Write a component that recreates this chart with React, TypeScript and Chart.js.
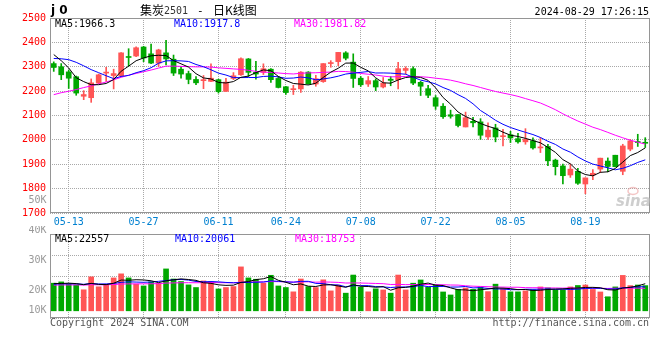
import React, { useEffect, useRef } from "react";
import { Chart, registerables } from "chart.js";
Chart.register(...registerables);

// ---------- data ----------
const dates = [
  "05-09","05-10","05-13","05-14","05-15","05-16","05-17","05-20","05-21","05-22","05-23","05-24",
  "05-27","05-28","05-29","05-30","05-31",
  "06-03","06-04","06-05","06-06","06-07","06-11","06-12","06-13","06-14","06-17","06-18","06-19","06-20","06-21",
  "06-24","06-25","06-26","06-27","06-28",
  "07-01","07-02","07-03","07-04","07-05","07-08","07-09","07-10","07-11","07-12","07-15","07-16","07-17","07-18","07-19",
  "07-22","07-23","07-24","07-25","07-26","07-29","07-30","07-31",
  "08-01","08-02","08-05","08-06","08-07","08-08","08-09","08-12","08-13","08-14","08-15","08-16",
  "08-19","08-20","08-21","08-22","08-23","08-26","08-27","08-28","08-29",
];
const tickDates = ["05-13","05-27","06-11","06-24","07-08","07-22","08-05","08-19"];

const opens = [
  2313,2300,2279,2259,2179,2173,2233,2274,2264,2263,
  2340,2344,2381,2353,2315,2357,2331,2290,2272,2248,
  2243,2240,2247,2199,2252,2267,2332,2277,2277,2290,
  2252,2218,2206,2209,2278,2229,2239,2313,2321,2357,
  2319,2253,2229,2243,2217,2249,2247,2285,2292,2236,
  2210,2173,2138,2103,2104,2053,2076,2074,2012,2049,
  2013,2021,2005,1992,1996,1967,1973,1917,1893,1856,
  1871,1819,1856,1880,1913,1937,1871,1962,1993,1990,
];
const highs = [
  2320,2313,2287,2262,2202,2250,2270,2298,2290,2358,
  2374,2382,2384,2393,2372,2408,2348,2300,2282,2260,
  2264,2312,2249,2253,2276,2337,2334,2322,2312,2292,
  2260,2220,2224,2280,2280,2265,2313,2325,2359,2362,
  2353,2260,2260,2250,2256,2260,2318,2300,2300,2240,
  2224,2182,2149,2122,2104,2114,2093,2087,2070,2064,
  2043,2035,2027,2046,2008,2009,1982,1921,1901,1901,
  1883,1844,1878,1925,1926,1937,1982,2002,2023,2009,
];
const lows = [
  2281,2247,2211,2183,2165,2154,2231,2240,2209,2260,
  2302,2341,2321,2313,2301,2308,2264,2253,2230,2226,
  2210,2239,2192,2199,2247,2264,2260,2249,2268,2236,
  2213,2186,2186,2195,2228,2220,2236,2298,2304,2328,
  2215,2219,2219,2202,2213,2222,2209,2270,2226,2182,
  2173,2125,2088,2089,2053,2053,2053,2002,2002,1992,
  1975,1989,1986,1982,1962,1948,1894,1856,1819,1846,
  1817,1779,1837,1866,1869,1889,1857,1955,1973,1969,
];
const closes = [
  2297,2267,2253,2192,2186,2234,2267,2278,2272,2357,
  2338,2378,2336,2315,2369,2332,2274,2270,2248,2234,
  2245,2253,2198,2237,2263,2333,2277,2270,2292,2247,
  2215,2194,2209,2278,2230,2251,2313,2317,2359,2335,
  2252,2226,2243,2217,2233,2244,2292,2293,2233,2220,
  2183,2138,2095,2097,2059,2091,2070,2019,2040,2012,
  2017,2008,1992,2002,1967,1971,1914,1890,1853,1880,
  1822,1844,1863,1925,1891,1890,1975,1996,1989,1986,
];
const volumes = [
  23000,24100,22600,21600,17500,28300,20000,21600,27400,30800,
  27400,22200,20700,24100,23000,34900,26500,24400,21600,19400,
  24900,24100,18200,19400,20200,36600,27400,26300,23000,29600,
  20700,19400,15800,26500,20200,19400,25800,16600,21400,14700,
  29800,19600,15800,18300,17400,14700,29800,17400,23000,25700,
  19600,21300,15700,13200,17900,19000,17900,19900,16000,22200,
  18400,15800,15800,16600,17600,19900,19100,17400,17400,19900,
  21100,21500,17800,15700,11700,19900,29500,21000,21500,21000,
];
// sessions before the visible window (only feed the moving averages)
const priorCloses = [
  2027,2073,1982,1946,2024,2027,2038,2002,2057,2068,2168,2126,2105,2129,2092,
  2274,2300,2278,2264,2245,2280,2290,2300,2330,2390,2392,2403,2392,2266,
];
const priorVolumes = [
  19500,22000,20500,23500,18500,21000,22500,20000,19000,24000,
  21500,20000,22500,19500,21000,23000,20500,19000,22000,20500,
  21000,23500,20500,22000,21000,24500,21000,23500,22000,
];

const priceLegend = ["MA5:1966.3", "MA10:1917.8", "MA30:1981.82"];
const volLegend = ["MA5:22557", "MA10:20061", "MA30:18753"];
const volAxisLabels = ["50K", "40K", "30K", "20K", "10K"];
const symbolText = "j 0";
const titleName = "集炭";
const titleCode = "2501";
const titleDash = "-";
const titleSuffix = "日K线图";
const timestamp = "2024-08-29 17:26:15";
const copyright = "Copyright 2024 SINA.COM";
const siteUrl = "http://finance.sina.com.cn";

// ---------- styles ----------
const RED = "#ff5555";
const GREEN = "#00a800";
const GRID = "#a8a8a8";
const FRAME = "#959595";
const MONO = '"DejaVu Sans Mono", monospace';
const CJK = '"Noto Sans CJK SC", sans-serif';

function movingAverage(prior: number[], values: number[], n: number) {
  const all = prior.concat(values);
  const off = prior.length;
  return values.map((_, i) => {
    let s = 0;
    for (let k = 0; k < n; k++) s += all[off + i - k];
    return s / n;
  });
}

function txt(ctx: CanvasRenderingContext2D, s: string, x: number, y: number, color: string, font: string, align: CanvasTextAlign = "left") {
  ctx.save();
  ctx.font = font;
  ctx.fillStyle = color;
  ctx.textAlign = align;
  ctx.textBaseline = "middle";
  ctx.fillText(s, x, y);
  ctx.restore();
}

function frame(chart: any) {
  const { ctx, chartArea: a } = chart;
  ctx.save();
  ctx.strokeStyle = FRAME;
  ctx.lineWidth = 1;
  ctx.strokeRect(a.left + 0.5, a.top + 0.5, a.right - a.left, a.bottom - a.top - 1);
  ctx.restore();
}

const tickSet = new Set(tickDates);
const candleColors = closes.map((c, i) => (c >= opens[i] ? RED : GREEN));

function xScale(showLabels: boolean, height: number) {
  return {
    type: "category" as const,
    offset: true,
    grid: {
      offset: false,
      drawTicks: false,
      lineWidth: 1,
      color: (c: any) => (tickSet.has(dates[c.index]) ? GRID : "rgba(0,0,0,0)"),
    },
    border: { display: false, dash: [1, 1] },
    ticks: {
      display: showLabels,
      autoSkip: false,
      maxRotation: 0,
      minRotation: 0,
      padding: 3,
      color: "#0080d0",
      font: { family: MONO, size: 10 },
      callback: (_v: any, i: number) => (tickSet.has(dates[i]) ? dates[i] : ""),
    },
    afterFit: (s: any) => {
      s.height = height;
    },
  };
}

export default function App() {
  const mainRef = useRef<HTMLCanvasElement>(null);
  const volRef = useRef<HTMLCanvasElement>(null);

  useEffect(() => {
    const ma5 = movingAverage(priorCloses, closes, 5);
    const ma10 = movingAverage(priorCloses, closes, 10);
    const ma30 = movingAverage(priorCloses, closes, 30);
    const vma5 = movingAverage(priorVolumes, volumes, 5);
    const vma10 = movingAverage(priorVolumes, volumes, 10);
    const vma30 = movingAverage(priorVolumes, volumes, 30);

    const line = (label: string, data: number[], color: string) => ({
      type: "line" as const,
      label,
      data,
      borderColor: color,
      borderWidth: 1,
      pointRadius: 0,
      tension: 0,
      order: 0,
    });

    const mainDecor = {
      id: "mainDecor",
      afterDraw(chart: any) {
        const ctx = chart.ctx;
        frame(chart);
        txt(ctx, symbolText, 51, 11, "#000", 'bold 12px "DejaVu Sans"');
        txt(ctx, titleName, 140, 10.5, "#000", `12px ${CJK}`);
        txt(ctx, titleCode, 164, 11, "#333", `10px ${MONO}`);
        txt(ctx, titleDash, 197, 11, "#000", `11px ${MONO}`);
        txt(ctx, titleSuffix, 213, 10.5, "#000", `12px ${CJK}`);
        txt(ctx, timestamp, 649, 12, "#000", `10px ${MONO}`, "right");
        txt(ctx, priceLegend[0], 55, 24, "#000", `10px ${MONO}`);
        txt(ctx, priceLegend[1], 174, 24, "#0000ff", `10px ${MONO}`);
        txt(ctx, priceLegend[2], 294, 24, "#ff00ff", `10px ${MONO}`);
        txt(ctx, volAxisLabels[0], 46.5, 200.5, "#999", `10px ${MONO}`, "right");
        // sina watermark
        ctx.save();
        ctx.strokeStyle = "rgba(235,150,150,0.55)";
        ctx.lineWidth = 1.5;
        ctx.beginPath();
        ctx.ellipse(633, 191, 5, 3.5, 0, 0, Math.PI * 2);
        ctx.stroke();
        ctx.restore();
        txt(ctx, "sina", 616, 202, "rgba(190,190,190,0.75)", 'italic bold 15px "DejaVu Sans"');
      },
    };

    const volDecor = {
      id: "volDecor",
      afterDraw(chart: any) {
        const ctx = chart.ctx;
        frame(chart);
        txt(ctx, volAxisLabels[1], 46.5, 4.7, "#999", `10px ${MONO}`, "right");
        txt(ctx, volAxisLabels[2], 46.5, 34.7, "#999", `10px ${MONO}`, "right");
        txt(ctx, volAxisLabels[3], 46.5, 64, "#999", `10px ${MONO}`, "right");
        txt(ctx, volAxisLabels[4], 46.5, 84.3, "#999", `10px ${MONO}`, "right");
        txt(ctx, volLegend[0], 55, 13, "#000", `10px ${MONO}`);
        txt(ctx, volLegend[1], 175, 13, "#0000ff", `10px ${MONO}`);
        txt(ctx, volLegend[2], 295, 13, "#ff00ff", `10px ${MONO}`);
        txt(ctx, copyright, 50, 97.7, "#555", `10px ${MONO}`);
        txt(ctx, siteUrl, 649, 97.7, "#555", `10px ${MONO}`, "right");
      },
    };

    const main = new Chart(mainRef.current!, {
      type: "bar",
      data: {
        labels: dates,
        datasets: [
          line("MA5", ma5, "#000000"),
          line("MA10", ma10, "#0000ff"),
          line("MA30", ma30, "#ff00ff"),
          {
            type: "bar",
            label: "body",
            data: opens.map((o, i) => [o, closes[i]]),
            backgroundColor: candleColors,
            barThickness: 5,
            minBarLength: 1,
            grouped: false,
            order: 1,
          } as any,
          {
            type: "bar",
            label: "wick",
            data: lows.map((l, i) => [l, highs[i]]),
            backgroundColor: candleColors,
            barThickness: 1,
            grouped: false,
            order: 2,
          } as any,
        ],
      },
      options: {
        responsive: false,
        animation: false,
        devicePixelRatio: 1,
        events: [],
        layout: { padding: { left: 0, right: 11, top: 18, bottom: 0 } },
        plugins: { legend: { display: false }, tooltip: { enabled: false } },
        scales: {
          x: xScale(true, 13) as any,
          y: {
            min: 1700,
            max: 2500,
            ticks: {
              stepSize: 100,
              color: "#ff0000",
              padding: 4,
              font: { family: MONO, size: 10 },
              callback: (v: any) => String(v),
            },
            grid: { color: GRID, drawTicks: false, lineWidth: 1 },
            border: { display: false, dash: [1, 1] },
            afterFit: (s: any) => {
              s.width = 50;
            },
          } as any,
        },
      },
      plugins: [mainDecor],
    });

    const vol = new Chart(volRef.current!, {
      type: "bar",
      data: {
        labels: dates,
        datasets: [
          line("MA5", vma5, "#000000"),
          line("MA10", vma10, "#0000ff"),
          line("MA30", vma30, "#ff00ff"),
          {
            type: "bar",
            label: "volume",
            data: volumes,
            backgroundColor: candleColors,
            barThickness: 5,
            grouped: false,
            order: 1,
          } as any,
        ],
      },
      options: {
        responsive: false,
        animation: false,
        devicePixelRatio: 1,
        events: [],
        layout: { padding: { left: 0, right: 11, top: 8, bottom: 0 } },
        plugins: { legend: { display: false }, tooltip: { enabled: false } },
        scales: {
          x: xScale(false, 42) as any,
          y: {
            min: -6000,
            max: 64000,
            ticks: { display: false, count: 5 },
            grid: { color: GRID, drawTicks: false, lineWidth: 1 },
            border: { display: false, dash: [1, 1] },
            afterFit: (s: any) => {
              s.width = 50;
            },
          } as any,
        },
      },
      plugins: [volDecor],
    });

    return () => {
      main.destroy();
      vol.destroy();
    };
  }, []);

  return (
    <div style={{ position: "absolute", left: 0, top: 0, width: 660, height: 360, background: "#fff" }}>
      <canvas ref={mainRef} width={660} height={226} style={{ position: "absolute", left: 0, top: 0, width: 660, height: 226 }} />
      <canvas ref={volRef} width={660} height={134} style={{ position: "absolute", left: 0, top: 226, width: 660, height: 134 }} />
    </div>
  );
}
